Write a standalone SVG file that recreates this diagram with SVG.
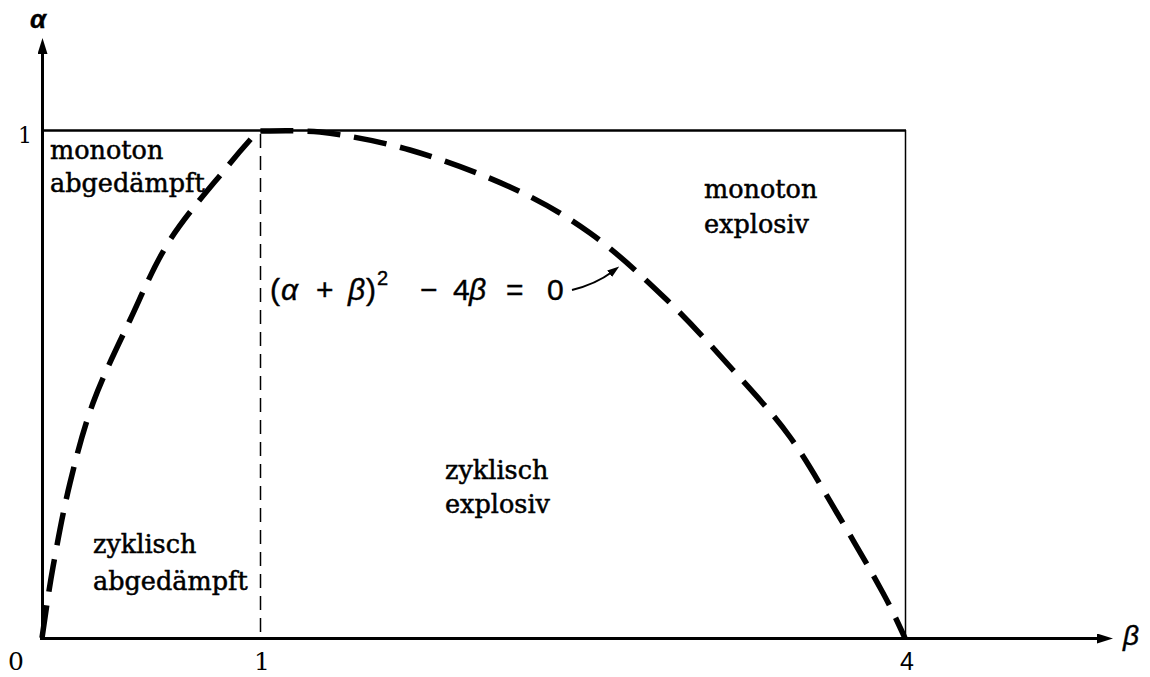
<svg xmlns="http://www.w3.org/2000/svg" width="1150" height="677" viewBox="0 0 1150 677">
  <style>
    .region { font-family: "DejaVu Serif", "Liberation Serif", serif; font-size: 25.5px; fill: #000; stroke: #000; stroke-width: 0.5; }
    .tick { font-family: "DejaVu Serif", "Liberation Serif", serif; font-size: 25px; fill: #000; }
    .formula { font-family: "Liberation Sans", "DejaVu Sans", sans-serif; font-size: 30px; fill: #000; stroke: #000; stroke-width: 0.4; }
    .greek { font-style: italic; }
    .axis { stroke: #000; stroke-width: 3; fill: none; }
    .frame { stroke: #000; fill: none; }
    .curve { stroke: #000; stroke-width: 5.5; fill: none; stroke-dasharray: 33 14; stroke-linejoin: round; }
  </style>
  <defs>
    <marker id="axisHead" viewBox="0 0 16 10" refX="4" refY="5" markerWidth="16" markerHeight="10" markerUnits="userSpaceOnUse" orient="auto">
      <path d="M0,0 L16,5 L0,10 z" fill="#000"/>
    </marker>
    <marker id="smallHead" viewBox="0 0 12 8" refX="3" refY="4" markerWidth="12" markerHeight="8" markerUnits="userSpaceOnUse" orient="auto">
      <path d="M0,0 L12,4 L0,8 z" fill="#000"/>
    </marker>
  </defs>
  <rect width="1150" height="677" fill="#fff"/>

  <g id="axes">
    <line class="axis" x1="42.5" y1="640" x2="42.5" y2="50" marker-end="url(#axisHead)"/>
    <line class="axis" x1="40" y1="638.5" x2="1101" y2="638.5" marker-end="url(#axisHead)"/>
    <text x="30" y="28" class="formula greek" style="font-size:26px;font-weight:bold">α</text>
    <text x="1123" y="645" class="formula greek" style="font-size:28px">β</text>
  </g>

  <g id="frame">
    <line class="frame" x1="42" y1="130.5" x2="906" y2="130.5" stroke-width="2.5"/>
    <line class="frame" x1="905.5" y1="130" x2="905.5" y2="638" stroke-width="1.5"/>
    <line class="frame" x1="260.5" y1="134" x2="260.5" y2="638" stroke-width="1.5" stroke-dasharray="14 8"/>
  </g>

  <g id="ticks">
    <text x="18" y="143" class="tick" style="font-size:22px">1</text>
    <text x="8" y="670" class="tick">0</text>
    <text x="262" y="670" class="tick" text-anchor="middle">1</text>
    <text x="907" y="670" class="formula" style="font-size:25px;stroke-width:0" text-anchor="middle">4</text>
  </g>

  <g id="connectors">
    <path class="curve" d="M42,638 C43.8,626.2 48.3,592.8 53,567 C57.7,541.2 63.3,510.3 70,483 C76.7,455.7 83,430.2 93,403 C103,375.8 117.2,347.2 130,320 C142.8,292.8 153.8,265.5 170,240 C186.2,214.5 212.3,185.2 227,167 C241.7,148.8 252.8,137 258,131 C268.3,131.2 295,130 320,132 C345.3,135.2 378.3,140.8 410,150 C441.7,159.2 480,173.2 510,187 C540,200.8 563.8,214.2 590,233 C616.2,251.8 643.2,277.2 667,300 C690.8,322.8 712.5,347.2 733,370 C753.5,392.8 772.7,413.2 790,437 C807.3,460.8 821.5,487 837,513 C852.5,539 871.7,572.2 883,593 C894.3,613.8 901.3,630.5 905,638"/>
    <path d="M572,290 Q596,284 612,272" stroke="#000" stroke-width="2" fill="none" marker-end="url(#smallHead)"/>
  </g>

  <g id="formula">
    <text y="300" class="formula">
      <tspan x="270">(</tspan><tspan x="281" class="greek">α</tspan><tspan x="316">+</tspan><tspan x="348" class="greek">β</tspan><tspan x="366">)</tspan><tspan x="377" y="285" style="font-size:20px">2</tspan><tspan x="420" y="300">−</tspan><tspan x="453">4</tspan><tspan x="469" class="greek">β</tspan><tspan x="506">=</tspan><tspan x="547">0</tspan>
    </text>
  </g>

  <g id="monoton-abgedaempft">
    <text x="50" y="159" class="region">monoton</text>
    <text x="50" y="192" class="region">abgedämpft</text>
  </g>
  <g id="monoton-explosiv">
    <text x="704" y="198" class="region">monoton</text>
    <text x="704" y="233" class="region">explosiv</text>
  </g>
  <g id="zyklisch-explosiv">
    <text x="445" y="479" class="region">zyklisch</text>
    <text x="445" y="513" class="region">explosiv</text>
  </g>
  <g id="zyklisch-abgedaempft">
    <text x="93" y="553" class="region">zyklisch</text>
    <text x="93" y="590" class="region">abgedämpft</text>
  </g>
</svg>
